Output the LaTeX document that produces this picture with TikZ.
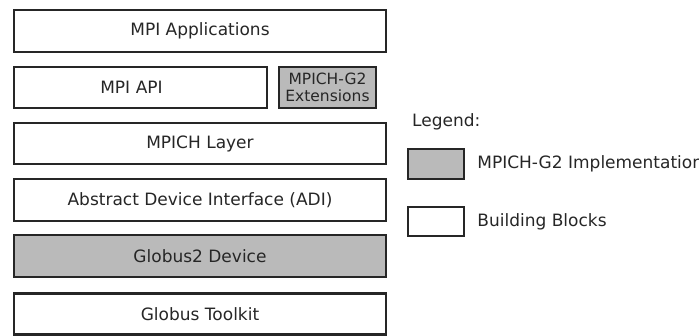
\documentclass[tikz,border=0pt]{standalone}
\usepackage{fontspec}
\setmainfont{DejaVu Sans}
\usetikzlibrary{positioning}
\tikzset{
    x=1pt,y=-1pt,node distance = 12pt and 12pt,
    every node/.style={text=black!85,font=\fontsize{17}{19}\selectfont},
    layer/.style ={rectangle, draw=black!85, line width=2.6pt, fill=white, minimum width = 372pt, minimum height = 42pt, inner sep=0pt},
    impl/.style = {layer, fill=black!27},
    small/.style = {minimum width = 97pt, minimum height = 41pt, align=center, font=\fontsize{15.5}{17.5}\selectfont},
    swatch/.style = {rectangle, draw=black!85, line width=2.4pt, minimum width = 56pt, minimum height = 30pt, inner sep=0pt}
}

\begin{document}
\begin{tikzpicture}
    \useasboundingbox (0,0) rectangle (699,336);

    % the stack of layers
    \node[layer] (app) at (200,31) {MPI Applications};
    \node[layer, minimum width = 253pt, minimum height = 41pt, text width = 253pt, align=center, execute at begin node=\hspace*{-18pt}] (api) at (140.5,87.5) {MPI API};
    \node[impl, small] (ext) at (327.5,87.5) {MPICH-G2\\Extensions};
    \node[layer, minimum height = 41pt] (mpich) at (200,143.5) {MPICH Layer};
    \node[layer] (adi) at (200,200) {Abstract Device Interface (ADI)};
    \node[impl] (g2dev) at (200,256) {Globus2 Device};
    \node[layer, minimum height = 41pt] (toolkit) at (200,314) {Globus Toolkit};

    % legend
    \node[anchor=west, inner sep=0pt] (legend) at (412,122) {Legend:};
    \node[swatch, fill=black!27] (legimpl) at (436,164) {};
    \node[swatch, fill=white, minimum height = 29pt] (legblock) at (436,221.5) {};
    \node[anchor=west, inner sep=0pt] (legimpltxt) [right = of legimpl] {MPICH-G2 Implementation};
    \node[anchor=west, inner sep=0pt] (legblocktxt) [right = of legblock] {Building Blocks};

\end{tikzpicture}
\end{document}
